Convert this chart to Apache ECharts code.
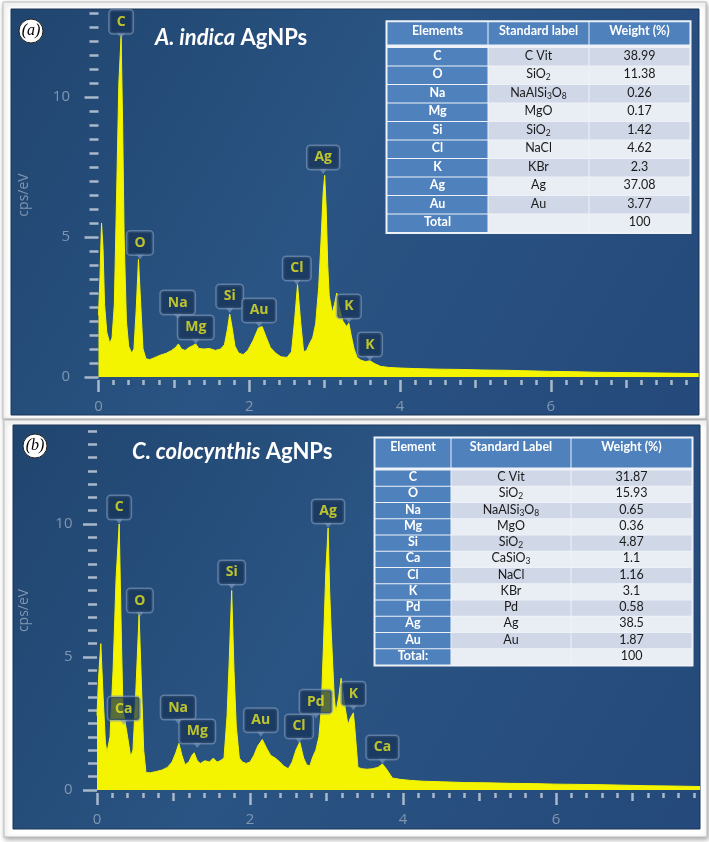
<!DOCTYPE html>
<html><head><meta charset="utf-8">
<script src="https://cdn.jsdelivr.net/npm/echarts@6/dist/echarts.min.js"></script>
<style>html,body{margin:0;padding:0;background:#fff}#c{width:709px;height:842px}</style>
</head><body><div id="c"></div>
<script>
// ---------- DATA ----------
// Panel (a) spectrum [keV, cps/eV]
const spectrumA = [
[0.00,2.2],[0.02,3.6],[0.04,5.5],[0.06,4.6],[0.08,2.6],[0.11,1.6],[0.15,1.2],[0.18,1.4],[0.21,2.6],[0.24,6.5],
[0.27,10.5],[0.30,12.2],[0.32,9.0],[0.34,5.0],[0.37,2.0],[0.40,1.1],[0.44,0.85],[0.47,1.0],[0.50,2.4],[0.53,4.2],
[0.56,2.6],[0.59,1.0],[0.63,0.65],[0.68,0.62],[0.75,0.7],[0.82,0.78],[0.90,0.85],[0.97,0.95],[1.02,1.05],[1.06,1.18],
[1.10,1.0],[1.15,0.95],[1.20,1.05],[1.25,1.12],[1.29,1.18],[1.33,1.02],[1.40,1.0],[1.47,1.02],[1.55,0.95],[1.62,1.0],
[1.67,1.15],[1.71,1.7],[1.74,2.25],[1.77,1.8],[1.81,1.1],[1.86,0.85],[1.92,0.8],[1.98,0.95],[2.05,1.3],[2.12,1.75],
[2.17,1.8],[2.22,1.45],[2.28,1.05],[2.35,0.85],[2.42,0.72],[2.50,0.7],[2.56,0.9],[2.60,2.0],[2.64,3.3],[2.68,2.0],
[2.72,0.9],[2.76,0.95],[2.80,1.2],[2.84,1.4],[2.88,1.9],[2.92,3.2],[2.95,4.8],[2.98,6.6],[3.00,7.2],[3.02,6.0],
[3.04,4.0],[3.06,2.9],[3.10,2.3],[3.13,2.6],[3.16,3.0],[3.19,2.5],[3.24,2.0],[3.29,1.8],[3.32,1.92],[3.35,1.5],
[3.39,1.0],[3.43,0.7],[3.48,0.6],[3.54,0.55],[3.60,0.58],[3.66,0.48],[3.74,0.38],[3.85,0.34],[4.0,0.32],[4.2,0.30],
[4.5,0.28],[4.8,0.27],[5.1,0.25],[5.4,0.24],[5.7,0.22],[6.0,0.2],[6.3,0.19],[6.6,0.17],[6.9,0.16],[7.2,0.15],
[7.5,0.14],[7.8,0.13],[7.96,0.12]
];
const peakNamesA = ['C','O','Na','Mg','Si','Au','Cl','Ag','K','K'];
const peakXA = [0.30,0.55,1.05,1.29,1.74,2.13,2.63,2.98,3.32,3.60];
const peakYA = [12.1,4.2,2.07,1.18,2.29,1.79,3.29,7.25,1.93,0.57];

// Panel (b) spectrum [keV, cps/eV]
const spectrumB = [
[0.00,2.8],[0.02,4.2],[0.05,5.5],[0.08,3.5],[0.11,1.8],[0.13,1.4],[0.17,2.0],[0.21,4.5],[0.25,8.0],[0.29,10.0],
[0.32,5.5],[0.34,3.0],[0.37,2.5],[0.40,2.0],[0.44,1.25],[0.47,1.5],[0.50,3.2],[0.55,6.6],[0.58,4.0],[0.61,1.5],
[0.64,0.65],[0.70,0.65],[0.78,0.7],[0.85,0.75],[0.92,0.85],[0.98,1.05],[1.03,1.4],[1.07,1.75],[1.11,1.3],[1.15,0.95],
[1.20,1.05],[1.24,1.3],[1.27,1.4],[1.31,1.1],[1.35,1.0],[1.41,1.1],[1.47,1.05],[1.52,1.2],[1.57,1.05],[1.61,1.1],
[1.66,1.2],[1.70,2.8],[1.73,5.0],[1.76,7.5],[1.79,4.5],[1.82,2.4],[1.86,1.2],[1.90,1.05],[1.95,1.0],[2.00,1.05],
[2.05,1.3],[2.10,1.65],[2.16,1.9],[2.22,1.55],[2.27,1.3],[2.33,1.2],[2.39,1.05],[2.44,0.9],[2.50,0.8],[2.55,1.05],
[2.60,1.5],[2.65,1.8],[2.70,1.2],[2.74,0.95],[2.78,0.9],[2.82,1.25],[2.86,1.5],[2.90,2.0],[2.93,3.0],[2.96,5.5],
[2.99,8.2],[3.02,9.85],[3.04,7.5],[3.06,6.0],[3.10,3.5],[3.12,2.9],[3.16,3.5],[3.19,4.2],[3.23,3.3],[3.28,2.45],
[3.31,2.7],[3.35,2.9],[3.37,2.3],[3.41,0.85],[3.46,0.8],[3.53,0.78],[3.60,0.8],[3.67,0.85],[3.73,0.98],[3.78,0.8],
[3.86,0.45],[3.96,0.4],[4.1,0.36],[4.26,0.33],[4.5,0.31],[4.8,0.28],[5.1,0.27],[5.4,0.25],[5.7,0.24],[6.0,0.22],
[6.3,0.21],[6.6,0.2],[6.9,0.18],[7.2,0.16],[7.5,0.15],[7.88,0.13]
];
const peakNamesB = ['C','O','Ca','Na','Mg','Si','Au','Cl','Pd','Ag','K','Ca'];
const peakXB = [0.29,0.56,0.35,1.06,1.31,1.76,2.14,2.64,2.86,3.02,3.35,3.73];
const peakYB = [10.0,6.5,2.44,2.48,1.58,7.56,2.0,1.77,2.7,9.85,3.0,0.98];

// Axis tick labels
const xTickLabels = [0,2,4,6];
const xMidTicks = [1,3,5,7];
const yTickLabels = [0,5,10];

// Tables
const tableHeaderA = ['Elements','Standard label','Weight (%)'];
const tableElementsA = ['C','O','Na','Mg','Si','Cl','K','Ag','Au','Total'];
const tableLabelsA = ['C Vit','SiO2','NaAlSi3O8','MgO','SiO2','NaCl','KBr','Ag','Au',''];
const tableWeightsA = ['38.99','11.38','0.26','0.17','1.42','4.62','2.3','37.08','3.77','100'];

const tableHeaderB = ['Element','Standard Label','Weight (%)'];
const tableElementsB = ['C','O','Na','Mg','Si','Ca','Cl','K','Pd','Ag','Au','Total:'];
const tableLabelsB = ['C Vit','SiO2','NaAlSi3O8','MgO','SiO2','CaSiO3','NaCl','KBr','Pd','Ag','Au',''];
const tableWeightsB = ['31.87','15.93','0.65','0.36','4.87','1.1','1.16','3.1','0.58','38.5','1.87','100'];

// ---------- STYLE / LAYOUT ----------
const YELLOW = '#f4f400';
const TICK = '#a9b8ca';
const AXLBL = '#8096b0';
const BOXBG = 'rgba(22,50,86,0.88)';
const BOXBORDER = 'rgba(125,152,186,0.8)';
const FONT = 'Open Sans';

const chart = echarts.init(document.getElementById('c'), null, {renderer:'canvas'});

function minorList(max, step){ const a=[]; for(let k=0;k*step<=max+1e-9;k++) a.push(Math.round(k*step*10)/10); return a; }

function xAxes(gi, max){
  const common = {type:'value', gridIndex:gi, min:0, max:max, position:'bottom', offset:3,
    axisLine:{show:false,onZero:false}, splitLine:{show:false}};
  const ls = {color:TICK, width:2.5};
  return [
    Object.assign({}, common, {axisTick:{show:true,length:12,lineStyle:ls,customValues:xTickLabels},
      axisLabel:{show:true,customValues:xTickLabels,margin:19,color:AXLBL,fontSize:15,fontFamily:FONT}}),
    Object.assign({}, common, {axisTick:{show:true,length:8,lineStyle:ls,customValues:xMidTicks}, axisLabel:{show:false}}),
    Object.assign({}, common, {axisTick:{show:true,length:5,lineStyle:ls,customValues:minorList(max,0.2)}, axisLabel:{show:false}})
  ];
}
function yAxes(gi, max, offset, nameGap){
  const common = {type:'value', gridIndex:gi, min:0, max:max, position:'left', offset:offset,
    axisLine:{show:false}, splitLine:{show:false}};
  const ls = {color:TICK, width:2.5};
  return [
    Object.assign({}, common, {axisTick:{show:true,length:14,lineStyle:ls,customValues:yTickLabels},
      axisLabel:{show:true,customValues:yTickLabels,margin:18,color:AXLBL,fontSize:15,fontFamily:FONT},
      name:'cps/eV', nameLocation:'middle', nameGap:nameGap, nameRotate:90,
      nameTextStyle:{color:AXLBL,fontSize:14,fontFamily:FONT}}),
    Object.assign({}, common, {axisTick:{show:true,length:9,lineStyle:ls,customValues:minorList(max,0.5)}, axisLabel:{show:false}})
  ];
}
function spectrumSeries(data, xi, yi){
  return {type:'line', xAxisIndex:xi, yAxisIndex:yi, data:data, symbol:'none', showSymbol:false, silent:true,
    lineStyle:{color:YELLOW,width:1}, areaStyle:{color:YELLOW,opacity:1}, z:2};
}
function peakSeries(names, xs, ys, xi, yi){
  return {type:'scatter', xAxisIndex:xi, yAxisIndex:yi, silent:true,
    data: names.map((n,i)=>({name:n, value:[xs[i], ys[i]]})),
    symbol:'path://M0,0L10,0L5,6Z', symbolSize:[9,6], symbolOffset:[0,'-50%'],
    itemStyle:{color:BOXBORDER},
    label:{show:true, position:'top', distance:-1, formatter:'{b}', color:'#e6e620', fontSize:14, fontWeight:'bold',
      fontFamily:FONT, backgroundColor:BOXBG, borderColor:BOXBORDER, borderWidth:1.5, borderRadius:3,
      padding:[3,7,3,7], lineHeight:17},
    z:5};
}

function sub(s){ return s.replace(/(\d+)/g, '{s|$1}'); }
function rect(x,y,w,h,fill,z){ return {type:'rect', shape:{x:x,y:y,width:w,height:h}, style:{fill:fill}, z:z||10, silent:true}; }
function txt(t,x,y,weight,fill,fs,z){
  return {type:'text', z:z||12, silent:true, style:{text:t, x:x, y:y, align:'center', verticalAlign:'middle',
    textAlign:'center', textVerticalAlign:'middle', fontSize:fs, fontFamily:'Lato', fontWeight:weight, fill:fill, lineHeight:fs+3,
    rich:{s:{fontSize:fs-4, fontFamily:'Lato', fill:fill, verticalAlign:'bottom'}}}};
}
function buildTable(x,y,colW,headH,gap,rowH,header,c1,c2,c3,fs){
  const els=[];
  const W=colW[0]+colW[1]+colW[2];
  const H=headH+gap+rowH*c1.length;
  els.push(rect(x-1.5,y-1.5,W+3,H+3,'#eef2f8',9));
  const xs=[x,x+colW[0],x+colW[0]+colW[1]];
  for(let j=0;j<3;j++){
    els.push(rect(xs[j]+0.5,y+0.5,colW[j]-1,headH-1,'#4f81bd'));
    els.push(txt(header[j],xs[j]+colW[j]/2,y+9,'bold','#ffffff',fs));
  }
  for(let i=0;i<c1.length;i++){
    const ry=y+headH+gap+i*rowH;
    const bg=i%2===0?'#d0d8e8':'#e9edf4';
    els.push(rect(xs[0]+0.5,ry+0.5,colW[0]-1,rowH-1,'#4f81bd'));
    els.push(rect(xs[1]+0.5,ry+0.5,colW[1]-1,rowH-1,bg));
    els.push(rect(xs[2]+0.5,ry+0.5,colW[2]-1,rowH-1,bg));
    els.push(txt(c1[i],xs[0]+colW[0]/2,ry+rowH/2-1,'bold','#ffffff',fs));
    els.push(txt(sub(c2[i]),xs[1]+colW[1]/2,ry+rowH/2-1,'normal','#1a1a1a',fs));
    els.push(txt(c3[i],xs[2]+colW[2]/2,ry+rowH/2-1,'normal','#1a1a1a',fs));
  }
  return els;
}
function panelBg(fx,fy,fw,fh,bx,by,bw,bh){
  return [
    {type:'rect', z:-20, silent:true, shape:{x:fx,y:fy,width:fw,height:fh},
      style:{fill:'#ffffff', stroke:'#bcbcbc', lineWidth:1, shadowBlur:5, shadowColor:'rgba(0,0,0,0.35)', shadowOffsetX:1, shadowOffsetY:2}},
    {type:'rect', z:-19, silent:true, shape:{x:bx,y:by,width:bw,height:bh},
      style:{fill:new echarts.graphic.LinearGradient(0,0,1,1,[
        {offset:0,color:'#20456f'},{offset:0.45,color:'#2a5483'},{offset:1,color:'#24497a'}]), stroke:'#1a3558', lineWidth:1}}
  ];
}
function tag(cx,cy,t){
  return [
    {type:'circle', z:20, silent:true, shape:{cx:cx,cy:cy,r:12}, style:{fill:'#ffffff', stroke:'#222', lineWidth:1}},
    {type:'text', z:21, silent:true, style:{text:t, x:cx, y:cy, align:'center', verticalAlign:'middle', textAlign:'center', textVerticalAlign:'middle',
      fontSize:16, fontFamily:'Liberation Serif', fontStyle:'italic', fill:'#000'}}
  ];
}
function title(x,y,it,rest){
  return {type:'text', z:20, silent:true, style:{text:'{i|'+it+'} {b|'+rest+'}', x:x, y:y, align:'left', verticalAlign:'middle',
    textAlign:'left', textVerticalAlign:'middle', fontSize:22, fontFamily:'Lato', fontWeight:'bold', fill:'#fff',
    rich:{i:{fontSize:22,fontFamily:'Lato',fontWeight:'bold',fontStyle:'italic',fill:'#fff'},
          b:{fontSize:22,fontFamily:'Lato',fontWeight:'bold',fill:'#fff'}}}};
}

const maxXA = 7.964, maxXB = 7.88;
const graphics = [].concat(
  panelBg(3,2,703,417,11,9,688,406),
  panelBg(4,420,703,417,13,425,687,404),
  tag(31,31,'(a)'), tag(35,446,'(b)'),
  [title(155,38,'A. indica','AgNPs'), title(132,452,'C. colocynthis','AgNPs')],
  buildTable(387,21.7,[101,101,101],23.3,2.4,18.5,tableHeaderA,tableElementsA,tableLabelsA,tableWeightsA,12.5),
  buildTable(375,438,[76,120,121],30,2,16.25,tableHeaderB,tableElementsB,tableLabelsB,tableWeightsB,12.5)
);

const option = {
  animation:false,
  textStyle:{fontFamily:FONT},
  grid:[
    {left:98.5, top:13, width:600.5, height:364},
    {left:97, top:430.9, width:603, height:359.1}
  ],
  xAxis: [].concat(xAxes(0,maxXA), xAxes(1,maxXB)),
  yAxis: [].concat(yAxes(0,13,10.5,57), yAxes(1,13.5,6.5,59.5)),
  series:[
    spectrumSeries(spectrumA,0,0),
    peakSeries(peakNamesA,peakXA,peakYA,0,0),
    spectrumSeries(spectrumB,3,2),
    peakSeries(peakNamesB,peakXB,peakYB,3,2)
  ],
  graphic: graphics
};
chart.setOption(option);
</script>
</body></html>
